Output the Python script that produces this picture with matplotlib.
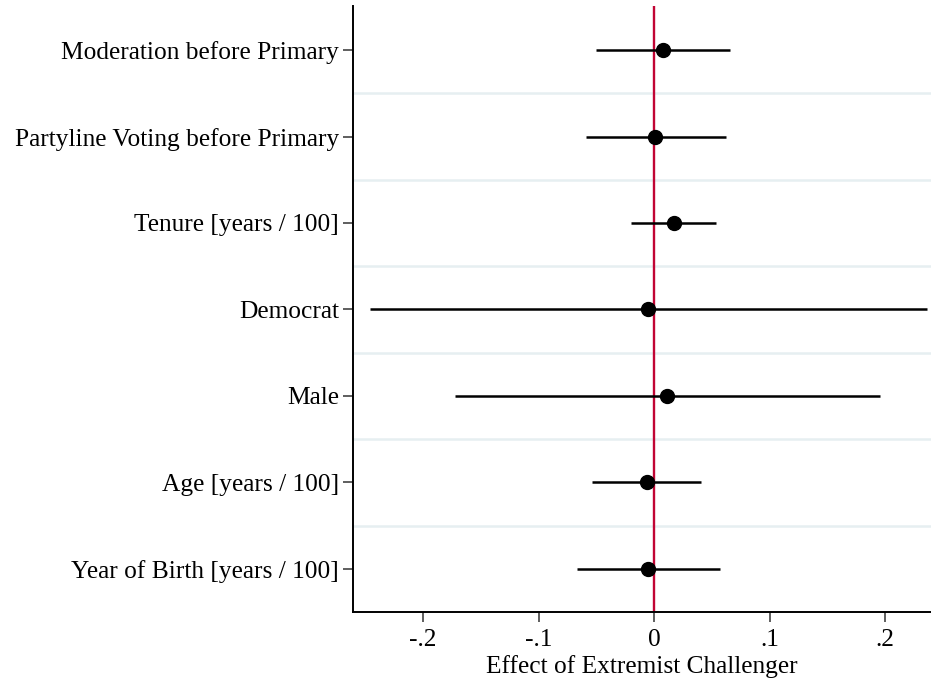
import matplotlib
matplotlib.use("Agg")
import matplotlib.pyplot as plt

labels = ["Moderation before Primary", "Partyline Voting before Primary",
          "Tenure [years / 100]", "Democrat", "Male",
          "Age [years / 100]", "Year of Birth [years / 100]"]
coef = [0.008, 0.001, 0.017, -0.005, 0.011, -0.006, -0.005]
ci_low = [-0.050, -0.059, -0.020, -0.246, -0.172, -0.054, -0.067]
ci_high = [0.066, 0.062, 0.054, 0.236, 0.196, 0.041, 0.057]
xticks = [-0.2, -0.1, 0, 0.1, 0.2]
xticklabels = ["-.2", "-.1", "0", ".1", ".2"]

plt.rcParams['font.family'] = ['Liberation Serif', 'DejaVu Serif']

fig = plt.figure(figsize=(9.31, 6.81), dpi=100)
ax = fig.add_axes([353 / 931, 1 - 612 / 681, (931 - 353) / 931, (612 - 6) / 681])

ypos = list(range(len(labels)))

# light grid between rows
for k in range(len(labels) - 1):
    ax.axhline(k + 0.5, color='#e6eff1', lw=1.8, zorder=0)

ax.axvline(0, color='#c10534', lw=1.7, zorder=1)
ax.hlines(ypos, ci_low, ci_high, color='black', lw=1.8, zorder=2)
ax.plot(coef, ypos, 'o', color='black', ms=10, zorder=3)

ax.set_ylim(len(labels) - 0.5, -0.51)
ax.set_xlim(-0.2606, 0.2398)
ax.set_yticks(ypos)
ax.set_yticklabels(labels, fontsize=18.3)
ax.set_xticks(xticks)
ax.set_xticklabels(xticklabels, fontsize=18.3)
ax.set_xlabel("Effect of Extremist Challenger", fontsize=18.3, labelpad=3)

for s in ['top', 'right']:
    ax.spines[s].set_visible(False)
for s in ['left', 'bottom']:
    ax.spines[s].set_linewidth(1.4)
ax.tick_params(axis='y', length=7, width=1.1, pad=3, color='#333333')
ax.tick_params(axis='x', length=7, width=1.1, pad=5, color='#333333')

fig.savefig("out.png", dpi=100)
